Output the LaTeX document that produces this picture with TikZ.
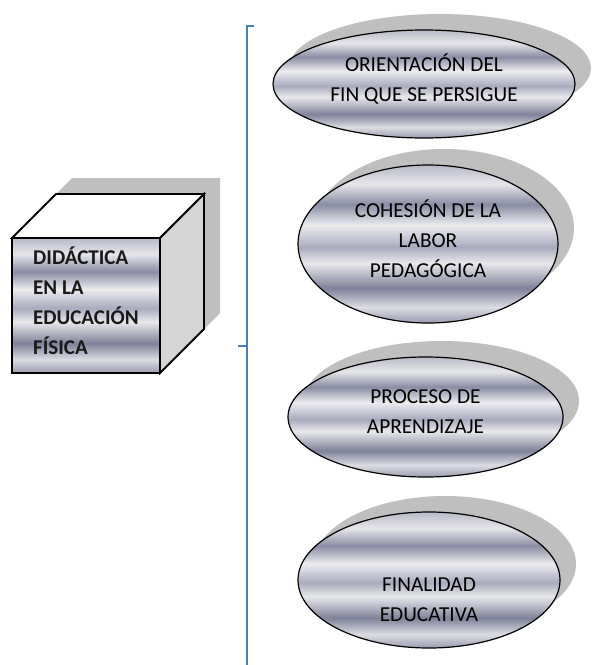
\documentclass[tikz,border=0pt]{standalone}
\usepackage{fontspec}
\setmainfont{Carlito}
\usetikzlibrary{shapes.geometric}
\definecolor{shadowgray}{HTML}{BFBFBF}
\definecolor{sidegray}{HTML}{D6D6D6}
\definecolor{bracketblue}{HTML}{4A7EBB}
\definecolor{ma}{HTML}{B8BAC6}
\definecolor{mb}{HTML}{E6E6EA}
\definecolor{mc}{HTML}{8A8DA3}
\definecolor{md}{HTML}{ECECF0}
\definecolor{me}{HTML}{A9ABBD}
\definecolor{mf}{HTML}{E8E8EC}
\definecolor{mg}{HTML}{7F8299}
\definecolor{mh}{HTML}{DCDCE3}
\definecolor{mi}{HTML}{9A9CAF}
\pgfdeclareverticalshading{metal}{100bp}{color(0bp)=(mi); color(25bp)=(mi); color(30bp)=(mh); color(36bp)=(mg); color(44bp)=(mf); color(49bp)=(me); color(56bp)=(md); color(62.5bp)=(mc); color(69bp)=(mb); color(75bp)=(ma); color(100bp)=(ma)}
\newcommand\ctext[2]{\raisebox{-#1pt}[0pt][0pt]{\begin{tabular}{@{}c@{}}#2\end{tabular}}}
\begin{document}
\begin{tikzpicture}[x=1pt,y=-1pt,
  ell/.style={ellipse, draw=black, line width=1.2pt, shading=metal, inner sep=0pt,
    font=\fontsize{21.3}{30}\selectfont},
  shad/.style={fill=shadowgray},
  cubeline/.style={draw=black, line width=1.8pt, line join=miter},
  cubelbl/.style={font=\fontsize{21}{30}\selectfont\bfseries, align=left, inner sep=0pt, text=black!90},
  bracket/.style={draw=bracketblue, line width=2pt}]
\useasboundingbox (0,0) rectangle (601,665);
% bracket
\coordinate (btick) at (254,26);
\coordinate (btop) at (247,26);
\coordinate (bbot) at (247,665);
\coordinate (bmid) at (247,346);
\coordinate (bmidtick) at (238,346);
\draw[bracket] (btick) -- (btop) -- (bbot);
\draw[bracket] (bmidtick) -- (bmid);
% cube shadow
\fill[shad] (28,222) -- (72,178) -- (220,178) -- (220,313) -- (176,357) -- (28,357) -- cycle;
% cube faces
\filldraw[cubeline, fill=white] (12,238) -- (56,194) -- (204,194) -- (160,238) -- cycle;
\filldraw[cubeline, fill=sidegray] (160,238) -- (204,194) -- (204,329) -- (160,373) -- cycle;
\shade[shading=metal] (12,238) rectangle (160,373);
\draw[cubeline] (12,238) rectangle (160,373);
\node[cubelbl, anchor=west] (cube) at (33,301) {DIDÁCTICA\\EN LA\\EDUCACIÓN\\FÍSICA};
% ellipse shadows
\fill[shad] (440,68) ellipse [x radius=151pt, y radius=54pt];
\fill[shad] (444,228) ellipse [x radius=130pt, y radius=79pt];
\fill[shad] (441.5,401) ellipse [x radius=137.5pt, y radius=60pt];
\fill[shad] (445,564) ellipse [x radius=131pt, y radius=68pt];
% ellipses
\node[ell, minimum width=302pt, minimum height=108pt] (e1) at (424,84) {\ctext{1.3}{ORIENTACIÓN DEL\\FIN QUE SE PERSIGUE}};
\node[ell, minimum width=260pt, minimum height=158pt] (e2) at (428,244) {\ctext{2.3}{COHESIÓN DE LA\\LABOR\\PEDAGÓGICA}};
\node[ell, minimum width=275pt, minimum height=120pt] (e3) at (425.5,417) {\ctext{0.3}{PROCESO DE\\APRENDIZAJE}};
\node[ell, minimum width=262pt, minimum height=136pt] (e4) at (429,580) {\ctext{25.3}{FINALIDAD\\EDUCATIVA}};
\end{tikzpicture}
\end{document}
